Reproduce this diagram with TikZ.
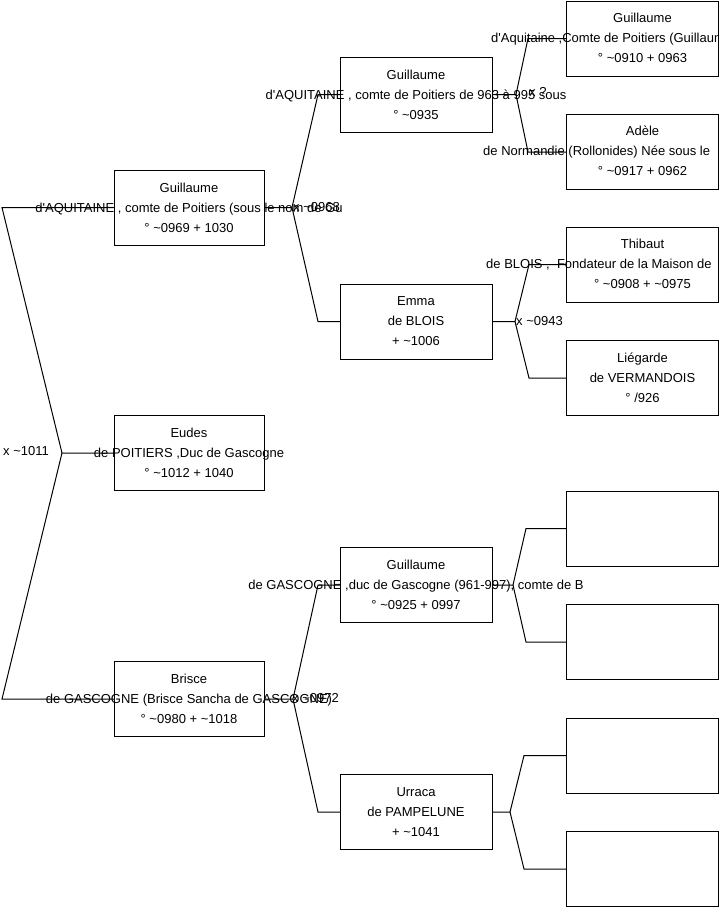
\documentclass[tikz,border=0pt]{standalone}
\usepackage{fontspec}
\setmainfont{Liberation Sans}[Ligatures=TeXOff]
\def\tld{\char"7E }
\def\ap{'}
\begin{document}
\begin{tikzpicture}[x=1pt,y=-1pt,
  box/.style={draw=black, line width=1pt, minimum width=150pt, minimum height=75pt, inner sep=0pt, outer sep=0pt},
  wbox/.style={box, minimum width=152pt},
  txt/.style={font=\fontsize{13}{20}\selectfont, align=center, inner sep=0pt},
  ln/.style={font=\fontsize{13}{20}\selectfont, inner sep=0pt, text height=9.5pt, text depth=2.5pt},
  lbl/.style={ln, anchor=west},
  link/.style={draw=black, line width=1pt}]
\useasboundingbox (0,0) rectangle (719,908);
\clip (0,0) rectangle (719,908);
% boxes
\node[box] (g2) at (189,207.5) {};
\node[box] (eudes) at (189,453) {};
\node[box] (brisce) at (189,699) {};
\node[wbox] (g3) at (416,94.5) {};
\node[wbox] (emma) at (416,321.5) {};
\node[wbox] (gg) at (416,585) {};
\node[wbox] (urraca) at (416,812) {};
\node[wbox] (g4) at (642.5,38.5) {};
\node[wbox] (adele) at (642.5,152) {};
\node[wbox] (thibaut) at (642.5,264.5) {};
\node[wbox] (liegarde) at (642.5,378) {};
\node[wbox] (e1) at (642.5,528.5) {};
\node[wbox] (e2) at (642.5,642) {};
\node[wbox] (e3) at (642.5,755.5) {};
\node[wbox] (e4) at (642.5,869) {};
% texts
\node[txt] (g2t) at (g2) {Guillaume\\d\ap AQUITAINE , comte de Poitiers (sous le nom de Gu\\° \tld 0969 + 1030};
\node[txt] (eudest) at (eudes) {Eudes\\de POITIERS ,Duc de Gascogne\\° \tld 1012 + 1040};
\node[txt] (bricet) at (brisce) {Brisce\\de GASCOGNE (Brisce Sancha de GASCOGNE)\\° \tld 0980 + \tld 1018};
\node[txt] (g3t) at (g3) {Guillaume\\d\ap AQUITAINE , comte de Poitiers de 963 à 995 sous\\° \tld 0935};
\node[txt] (emmat) at (emma) {Emma\\de BLOIS\\+ \tld 1006};
\node[txt] (ggt) at (gg) {Guillaume\\de GASCOGNE ,duc de Gascogne (961-997), comte de B\\° \tld 0925 + 0997};
\node[txt] (urracat) at (urraca) {Urraca\\de PAMPELUNE\\+ \tld 1041};
\node[txt] (liegardet) at (liegarde) {Liégarde\\de VERMANDOIS\\° /926};
\node[ln] (g4a) at ([yshift=20pt]g4.center) {Guillaume};
\node[ln, anchor=west] (g4b) at (491,38.5) {d\ap Aquitaine ,Comte de Poitiers (Guillaume};
\node[ln] (g4c) at ([yshift=-20pt]g4.center) {° \tld 0910 + 0963};
\node[ln] (adelea) at ([yshift=20pt]adele.center) {Adèle};
\node[ln, anchor=west] (adeleb) at (483,152) {de Normandie (Rollonides) Née sous le};
\node[ln] (adelec) at ([yshift=-20pt]adele.center) {° \tld 0917 + 0962};
\node[ln] (thibauta) at ([yshift=20pt]thibaut.center) {Thibaut};
\node[ln, anchor=west] (thibautb) at (486,264.5) {de BLOIS ,\ \ Fondateur de la Maison de};
\node[ln] (thibautc) at ([yshift=-20pt]thibaut.center) {° \tld 0908 + \tld 0975};
% marriage labels
\node[lbl] (m0) at (3,452) {x \tld 1011};
\node[lbl] (m1) at (293,208) {x \tld 0968};
\node[lbl] (m2) at (529,93) {x ?};
\node[lbl] (m3) at (516,321.5) {x \tld 0943};
\node[lbl] (m4) at (292,699) {x \tld 0972};
% fork coordinates
\coordinate (a0) at (62,453);
\coordinate (a0u) at (2,207.5);
\coordinate (a0d) at (2,699);
\coordinate (a1) at (292,207.5);
\coordinate (a1u) at (318,94.5);
\coordinate (a1d) at (318,321.5);
\coordinate (a2) at (293,699);
\coordinate (a2u) at (318,585);
\coordinate (a2d) at (318,812);
\coordinate (a3) at (516,94.5);
\coordinate (a3u) at (528,38.5);
\coordinate (a3d) at (528,152);
\coordinate (a4) at (515,321.5);
\coordinate (a4u) at (529,264.5);
\coordinate (a4d) at (529,378);
\coordinate (a5) at (513,585);
\coordinate (a5u) at (526,528.5);
\coordinate (a5d) at (526,642);
\coordinate (a6) at (510,812);
\coordinate (a6u) at (524,755.5);
\coordinate (a6d) at (524,869);
% connectors
\draw[link] (eudes.west) -- (a0) -- (a0u) -- (g2.west);
\draw[link] (a0) -- (a0d) -- (brisce.west);
\draw[link] (g2.east) -- (a1) -- (a1u) -- (g3.west);
\draw[link] (a1) -- (a1d) -- (emma.west);
\draw[link] (brisce.east) -- (a2) -- (a2u) -- (gg.west);
\draw[link] (a2) -- (a2d) -- (urraca.west);
\draw[link] (g3.east) -- (a3) -- (a3u) -- (g4.west);
\draw[link] (a3) -- (a3d) -- (adele.west);
\draw[link] (emma.east) -- (a4) -- (a4u) -- (thibaut.west);
\draw[link] (a4) -- (a4d) -- (liegarde.west);
\draw[link] (gg.east) -- (a5) -- (a5u) -- (e1.west);
\draw[link] (a5) -- (a5d) -- (e2.west);
\draw[link] (urraca.east) -- (a6) -- (a6u) -- (e3.west);
\draw[link] (a6) -- (a6d) -- (e4.west);
\end{tikzpicture}
\end{document}
